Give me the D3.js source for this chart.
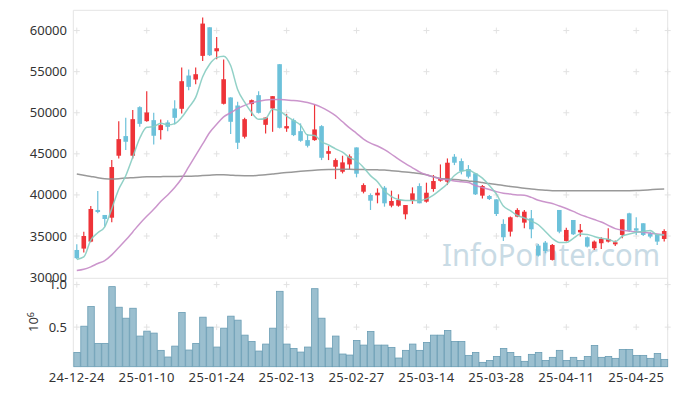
<!DOCTYPE html>
<html>
<head>
<meta charset="utf-8">
<script src="https://cdn.jsdelivr.net/npm/d3@7"></script>
<style>
  html, body { margin: 0; padding: 0; background: #fff; }
  svg { display: block; font-family: "Noto Sans", "DejaVu Sans", sans-serif; }
</style>
</head>
<body>
<div id="chart"></div>
<script>
// ---- data ----
const dates = [
  "24-12-24","24-12-26","24-12-27","24-12-30","25-01-02","25-01-03","25-01-06","25-01-07","25-01-08","25-01-09",
  "25-01-10","25-01-13","25-01-14","25-01-15","25-01-16","25-01-17","25-01-20","25-01-21","25-01-22","25-01-23",
  "25-01-24","25-01-31","25-02-03","25-02-04","25-02-05","25-02-06","25-02-07","25-02-10","25-02-11","25-02-12",
  "25-02-13","25-02-14","25-02-17","25-02-18","25-02-19","25-02-20","25-02-21","25-02-24","25-02-25","25-02-26",
  "25-02-27","25-02-28","25-03-04","25-03-05","25-03-06","25-03-07","25-03-10","25-03-11","25-03-12","25-03-13",
  "25-03-14","25-03-17","25-03-18","25-03-19","25-03-20","25-03-21","25-03-24","25-03-25","25-03-26","25-03-27",
  "25-03-28","25-03-31","25-04-01","25-04-02","25-04-03","25-04-04","25-04-07","25-04-08","25-04-09","25-04-10",
  "25-04-11","25-04-14","25-04-15","25-04-16","25-04-17","25-04-18","25-04-21","25-04-22","25-04-23","25-04-24",
  "25-04-25","25-04-28","25-04-29","25-04-30","25-05-02"
];

const opens = [
  33300,33470,34320,38170,37560,37230,44770,47160,44770,50680,
  48980,49100,47890,48820,50520,50480,54530,54040,56920,60400,
  57480,51090,51860,50880,47080,51050,52140,48530,50520,55910,
  48090,49100,47760,46670,46670,48370,45010,43430,42820,43710,
  45780,40390,39990,39950,40880,38690,38690,37640,39260,41080,
  39180,40720,41730,41610,44650,44120,43150,42620,39910,39870,
  39460,36470,35530,37360,36630,37150,33830,34200,32090,38170,
  34400,36950,35450,34850,33510,34120,34320,33990,35130,37760,
  35940,36550,35330,35130,34640
];
const highs = [
  34000,35530,38650,40470,37560,44240,48980,49380,50320,50800,
  52620,49990,49180,49100,51530,55500,55260,55500,61580,60400,
  59230,56470,51900,51330,49380,51610,52620,49420,52020,55910,
  49830,49300,48700,47400,51000,48490,45940,44440,44770,44930,
  45780,41410,40190,40800,41080,40520,40070,38770,40920,41410,
  41490,42420,43710,44440,44970,44440,43630,42620,41200,39990,
  39460,37030,37360,38370,38170,38170,34040,34400,34040,38170,
  36020,36950,36470,34930,34440,34850,35940,34440,37030,37840,
  37280,36550,35530,35130,35820
];
const lows = [
  32200,32980,34240,37760,36150,36670,44440,45460,44440,48290,
  48900,46140,46750,47760,48570,49910,52750,53480,56310,56920,
  56510,51000,47400,45580,46870,49590,49910,47480,47680,48090,
  47680,47160,46470,45780,46590,44240,44240,41930,42620,43110,
  42140,40190,38170,38980,38570,38490,38570,37030,38900,38980,
  39060,40390,41610,41200,43630,42500,42010,39990,39580,39380,
  37440,34400,34930,37280,35940,34720,32500,32900,32010,35330,
  34320,35130,34930,33590,33310,33430,34200,33790,34720,35530,
  35130,35010,34720,33910,34320
];
const closes = [
  32300,35000,38290,37920,37070,43390,46790,46470,49220,48650,
  50030,47200,48490,48290,49380,53840,53150,54690,60850,57000,
  57850,54080,48900,46350,49220,51530,49990,49420,52020,48170,
  48370,47280,46590,45980,47970,44520,45330,44240,43960,44690,
  42580,41200,39300,40270,38980,39260,39380,38770,40190,38980,
  40270,41690,42010,43920,43920,42900,42220,40070,41080,39500,
  37680,34850,37280,38170,37960,35820,32620,33180,33910,35530,
  35740,35210,35740,33710,34320,34640,34640,34240,37030,35660,
  35660,35130,34930,34320,35610
];
// traded volume, shares
const volumes = [
  203000,511000,742000,309000,309000,976000,734000,605000,722000,395000,
  453000,430000,227000,149000,277000,672000,231000,309000,617000,500000,
  266000,488000,629000,582000,406000,332000,219000,301000,488000,921000,
  301000,250000,207000,266000,952000,605000,254000,395000,184000,172000,
  344000,289000,449000,289000,289000,262000,137000,227000,301000,227000,
  320000,406000,406000,461000,332000,332000,168000,203000,86000,109000,
  156000,250000,203000,156000,98000,180000,203000,109000,145000,227000,
  109000,145000,109000,156000,285000,145000,156000,133000,238000,238000,
  168000,168000,133000,191000,121000
];
// moving averages as drawn (short / medium / long)
const ma5 = [
  32150,32450,34500,35400,36120,38330,40690,42330,44590,46900,
  48230,48310,48720,48530,48680,49440,50630,51870,54380,55910,
  56710,56890,55740,52840,51280,50020,49200,49300,50440,50230,
  49590,49050,48490,47280,47240,46470,46080,45610,45200,44550,
  44160,43330,42350,41610,40470,39800,39440,39330,39320,39320,
  39520,39980,40630,41370,42360,42890,42990,42610,42040,41150,
  40110,38640,38080,37500,37190,36820,36370,35550,34700,34210,
  34200,34710,35230,35190,34940,34720,34610,34310,34970,35240,
  35450,35540,35680,35140,35130
];
const ma20 = [
  30800,30950,31250,31650,32000,32700,33600,34500,35500,36500,
  37400,38250,39200,40000,40900,42000,43400,44800,46200,47600,
  48600,49500,50000,50500,50900,51200,51400,51550,51600,51600,
  51550,51500,51400,51250,51000,50650,50200,49650,48900,48150,
  47500,46800,46300,45950,45500,44950,44350,43800,43300,42800,
  42450,42200,41950,41850,41700,41600,41500,41150,40900,40650,
  40400,40200,40100,40000,39950,39700,39350,39150,38950,38650,
  38350,38000,37600,37300,37000,36700,36300,35900,35700,35600,
  35500,35450,35350,35250,35150
];
const ma120 = [
  42550,42400,42250,42100,41980,41950,41980,42050,42100,42150,
  42200,42200,42220,42240,42250,42260,42280,42300,42350,42400,
  42450,42450,42400,42350,42330,42330,42380,42450,42550,42650,
  42720,42800,42880,42950,43010,43050,43080,43100,43110,43110,
  43100,43090,43070,43050,43020,42950,42870,42780,42700,42600,
  42450,42200,42000,41950,41880,41800,41700,41620,41500,41380,
  41280,41150,41030,40920,40820,40720,40640,40570,40520,40510,
  40510,40510,40510,40510,40510,40510,40510,40510,40510,40520,
  40540,40580,40630,40680,40720
];

const priceTicks = [30000, 35000, 40000, 45000, 50000, 55000, 60000];
const volTicks = [500000, 1000000];
const dateTicks = dates.filter((d, i) => i % 10 === 0);

// ---- layout ----
const W = 677, H = 396;
const plotL = 73.3, plotR = 667.7, plotT = 10.3, plotSplit = 278.3, plotB = 366.7;

const svg = d3.select("#chart").append("svg")
    .attr("width", W)
    .attr("height", H);

const x = d3.scaleBand().domain(dates).range([plotL, plotR]).padding(0);
const cx = d => x(d) + x.bandwidth() / 2;
const y = d3.scaleLinear().domain([30000, 62467]).range([277.1, plotT]);
const yv = d3.scaleLinear().domain([35000, 1074000]).range([plotB, plotSplit]);

const idx = d3.range(dates.length);

// ---- frame ----
const frameColor = "#e4e4e4";
svg.append("path")
    .attr("d", `M${plotL},${plotB}V${plotT}H${plotR}V${plotB}`)
    .attr("fill", "none")
    .attr("stroke", frameColor);
svg.append("line")
    .attr("x1", plotL).attr("x2", plotR)
    .attr("y1", plotSplit).attr("y2", plotSplit)
    .attr("stroke", frameColor);

// grid crosses
const crossPts = [];
dateTicks.forEach(d => {
    priceTicks.filter(p => p > 30000).forEach(p => crossPts.push([cx(d), y(p)]));
    volTicks.forEach(v => crossPts.push([cx(d), yv(v)]));
});
priceTicks.filter(p => p > 30000).forEach(p => crossPts.push([plotR, y(p)]));
volTicks.forEach(v => crossPts.push([plotR, yv(v)]));

svg.append("g")
    .selectAll("path")
    .data(crossPts)
    .join("path")
    .attr("d", d => `M${d[0] - 3},${d[1]}h6M${d[0]},${d[1] - 3}v6`)
    .attr("stroke", "#e2e2e2")
    .attr("stroke-width", 1);

// watermark
svg.append("text")
    .attr("x", 442)
    .attr("y", 266)
    .attr("textLength", 218)
    .attr("lengthAdjust", "spacingAndGlyphs")
    .style("font-size", "31px")
    .style("fill", "#c9dbe5")
    .text("InfoPointer.com");

// ---- volume bars ----
svg.append("g")
    .selectAll("rect")
    .data(idx)
    .join("rect")
    .attr("x", i => x(dates[i]) + 0.5)
    .attr("width", x.bandwidth() - 0.5)
    .attr("y", i => yv(volumes[i]))
    .attr("height", i => plotB - yv(volumes[i]))
    .attr("fill", "#9bbfcf")
    .attr("stroke", "#6a9db4")
    .attr("stroke-width", 0.8);

// ---- candles ----
const upColor = "#ee3338", downColor = "#6cc1da";
const candle = svg.append("g")
    .selectAll("g")
    .data(idx)
    .join("g")
    .attr("stroke", i => closes[i] >= opens[i] ? upColor : downColor)
    .attr("fill", i => closes[i] >= opens[i] ? upColor : downColor);

candle.append("line")
    .attr("x1", i => cx(dates[i]))
    .attr("x2", i => cx(dates[i]))
    .attr("y1", i => y(highs[i]))
    .attr("y2", i => y(lows[i]))
    .attr("stroke-width", 1.2);

const bodyW = 4.6;
candle.append("rect")
    .attr("x", i => cx(dates[i]) - bodyW / 2)
    .attr("width", bodyW)
    .attr("y", i => y(Math.max(opens[i], closes[i])))
    .attr("height", i => Math.max(1.5, Math.abs(y(opens[i]) - y(closes[i]))))
    .attr("stroke", "none");

// ---- moving averages ----
const lineGen = series => d3.line()
    .x(i => cx(dates[i]))
    .y(i => y(series[i]))
    .curve(d3.curveMonotoneX)(idx);

[
    { s: ma120, c: "#8e8e8e" },
    { s: ma20, c: "#c58ac6" },
    { s: ma5, c: "#86ccc1" }
].forEach(m => {
    svg.append("path")
        .attr("d", lineGen(m.s))
        .attr("fill", "none")
        .attr("stroke", m.c)
        .attr("stroke-width", 1.5)
        .attr("opacity", 0.9);
});

// ---- axes labels ----
const labelColor = "#333";
svg.append("g")
    .selectAll("text")
    .data(priceTicks)
    .join("text")
    .attr("x", 67)
    .attr("y", p => y(p))
    .attr("dy", "0.35em")
    .attr("text-anchor", "end")
    .style("font-size", "13px")
    .style("fill", labelColor)
    .text(p => p);

svg.append("g")
    .selectAll("text")
    .data(volTicks)
    .join("text")
    .attr("x", 67)
    .attr("y", v => yv(v))
    .attr("dy", "0.35em")
    .attr("text-anchor", "end")
    .style("font-size", "13px")
    .style("fill", labelColor)
    .text(v => (v / 1e6).toFixed(1));

const expLabel = svg.append("text")
    .attr("transform", "translate(38,322) rotate(-90)")
    .attr("text-anchor", "middle")
    .style("font-size", "13px")
    .style("fill", labelColor);
expLabel.append("tspan").text("10");
expLabel.append("tspan")
    .attr("dy", "-0.5em")
    .style("font-size", "9px")
    .text("6");

svg.append("g")
    .selectAll("text")
    .data(dateTicks)
    .join("text")
    .attr("x", d => cx(d))
    .attr("y", 382)
    .attr("text-anchor", "middle")
    .style("font-size", "13px")
    .style("letter-spacing", "0.4px")
    .style("fill", labelColor)
    .text(d => d);
</script>
</body>
</html>
